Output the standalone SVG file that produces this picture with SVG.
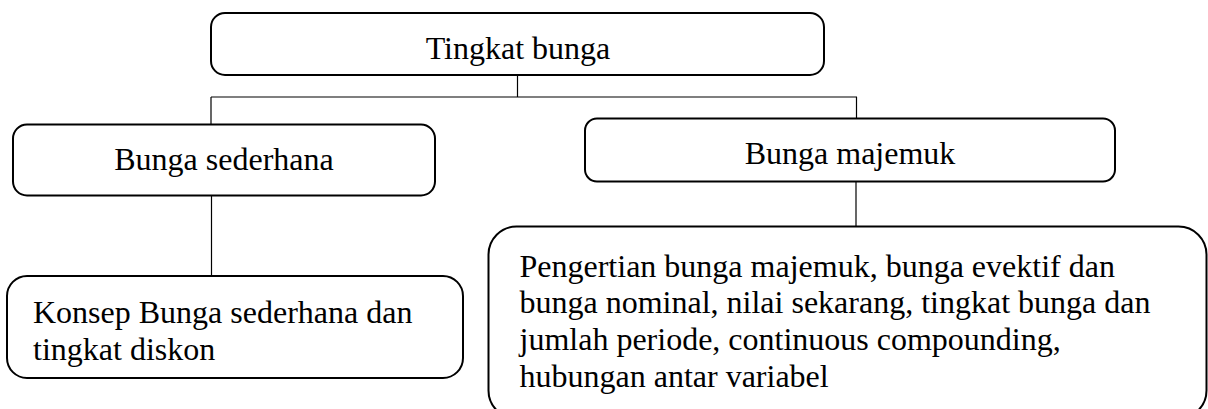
<svg xmlns="http://www.w3.org/2000/svg" width="1208" height="409" viewBox="0 0 1208 409">
<style>
.box{fill:#fff;stroke:#000;stroke-width:2}
.conn{fill:none;stroke:#000;stroke-width:1.2}
.t{font-family:'Liberation Serif','Times New Roman',Times,serif;font-size:32px;fill:#000}
.c{text-anchor:middle}
</style>
<rect width="1208" height="409" fill="#fff"/>
<g id="connectors">
<line class="conn" x1="517.5" y1="75" x2="517.5" y2="97"/>
<line class="conn" x1="211" y1="97" x2="857" y2="97"/>
<line class="conn" x1="211" y1="97" x2="211" y2="125"/>
<line class="conn" x1="856.5" y1="97" x2="856.5" y2="118"/>
<line class="conn" x1="211.5" y1="195" x2="211.5" y2="276"/>
<line class="conn" x1="856" y1="182" x2="856" y2="227"/>
</g>
<g id="n-tingkat">
<rect class="box" x="211" y="13" width="613" height="62" rx="14"/>
<text class="t c" font-family="Liberation Serif, serif" x="518" y="58.5">Tingkat bunga</text>
</g>
<g id="n-sederhana">
<rect class="box" x="13" y="124.5" width="422" height="71" rx="14"/>
<text class="t c" font-family="Liberation Serif, serif" x="224" y="170">Bunga sederhana</text>
</g>
<g id="n-majemuk">
<rect class="box" x="585" y="118.5" width="530" height="63" rx="12"/>
<text class="t c" font-family="Liberation Serif, serif" x="850" y="163.5">Bunga majemuk</text>
</g>
<g id="n-konsep">
<rect class="box" x="7" y="276" width="456" height="102" rx="20"/>
<text class="t" font-family="Liberation Serif, serif" x="33" y="323">Konsep Bunga sederhana dan</text>
<text class="t" font-family="Liberation Serif, serif" x="33" y="360">tingkat diskon</text>
</g>
<g id="n-pengertian">
<rect class="box" x="488.5" y="226.5" width="718" height="192" rx="28"/>
<text class="t" font-family="Liberation Serif, serif" x="519.5" y="276.5">Pengertian bunga majemuk, bunga evektif dan</text>
<text class="t" font-family="Liberation Serif, serif" x="519.5" y="313.2">bunga nominal, nilai sekarang, tingkat bunga dan</text>
<text class="t" font-family="Liberation Serif, serif" x="519.5" y="349.9">jumlah periode, continuous compounding,</text>
<text class="t" font-family="Liberation Serif, serif" x="519.5" y="386.6">hubungan antar variabel</text>
</g>
</svg>
